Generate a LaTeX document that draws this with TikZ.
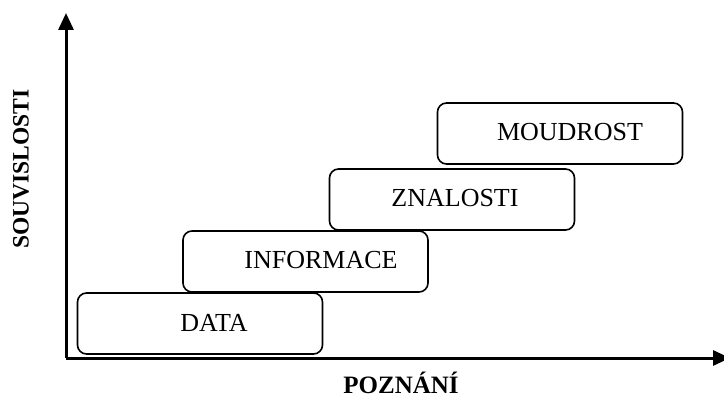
\documentclass[tikz,border=0pt]{standalone}
\usepackage{fontspec}
\setmainfont{Liberation Serif}
\usetikzlibrary{arrows.meta}
\begin{document}
\begin{tikzpicture}[x=1pt,y=-1pt,
  level/.style={draw,line width=1.6pt,rounded corners=9pt,minimum width=245pt,minimum height=61pt,inner sep=0pt},
  lbl/.style={font=\fontsize{26}{30}\selectfont},
  axislbl/.style={font=\fontsize{24.5}{28}\selectfont\bfseries,inner sep=0pt},
  axis/.style={line width=3pt,-{Triangle[length=17pt,width=15pt]}}]
\useasboundingbox (0,0) rectangle (724,401);
% axes
\coordinate (o) at (66,358);
\coordinate (ytop) at (66,13);
\coordinate (xend) at (730,358);
\draw[axis] (o) -- (ytop);
\draw[axis] (o) -- (xend);
% levels
\node[level] (data) at (200,323.5) {};
\node[level] (info) at (305.5,261.5) {};
\node[level] (znal) at (452,199.5) {};
\node[level] (moud) at (560,133.5) {};
\node[lbl] (tdata) at (214,323) {DATA};
\node[lbl] (tinfo) at (321,260) {INFORMACE};
\node[lbl] (tznal) at (455,198) {ZNALOSTI};
\node[lbl] (tmoud) at (570,132) {MOUDROST};
% axis captions
\node[axislbl,font=\fontsize{23.5}{28}\selectfont\bfseries,rotate=90] (souv) at (21,169) {SOUVISLOSTI};
\node[axislbl,font=\fontsize{25}{28}\selectfont\bfseries,anchor=base] (pozn) at (401,393) {POZNÁNÍ};
\end{tikzpicture}
\end{document}
